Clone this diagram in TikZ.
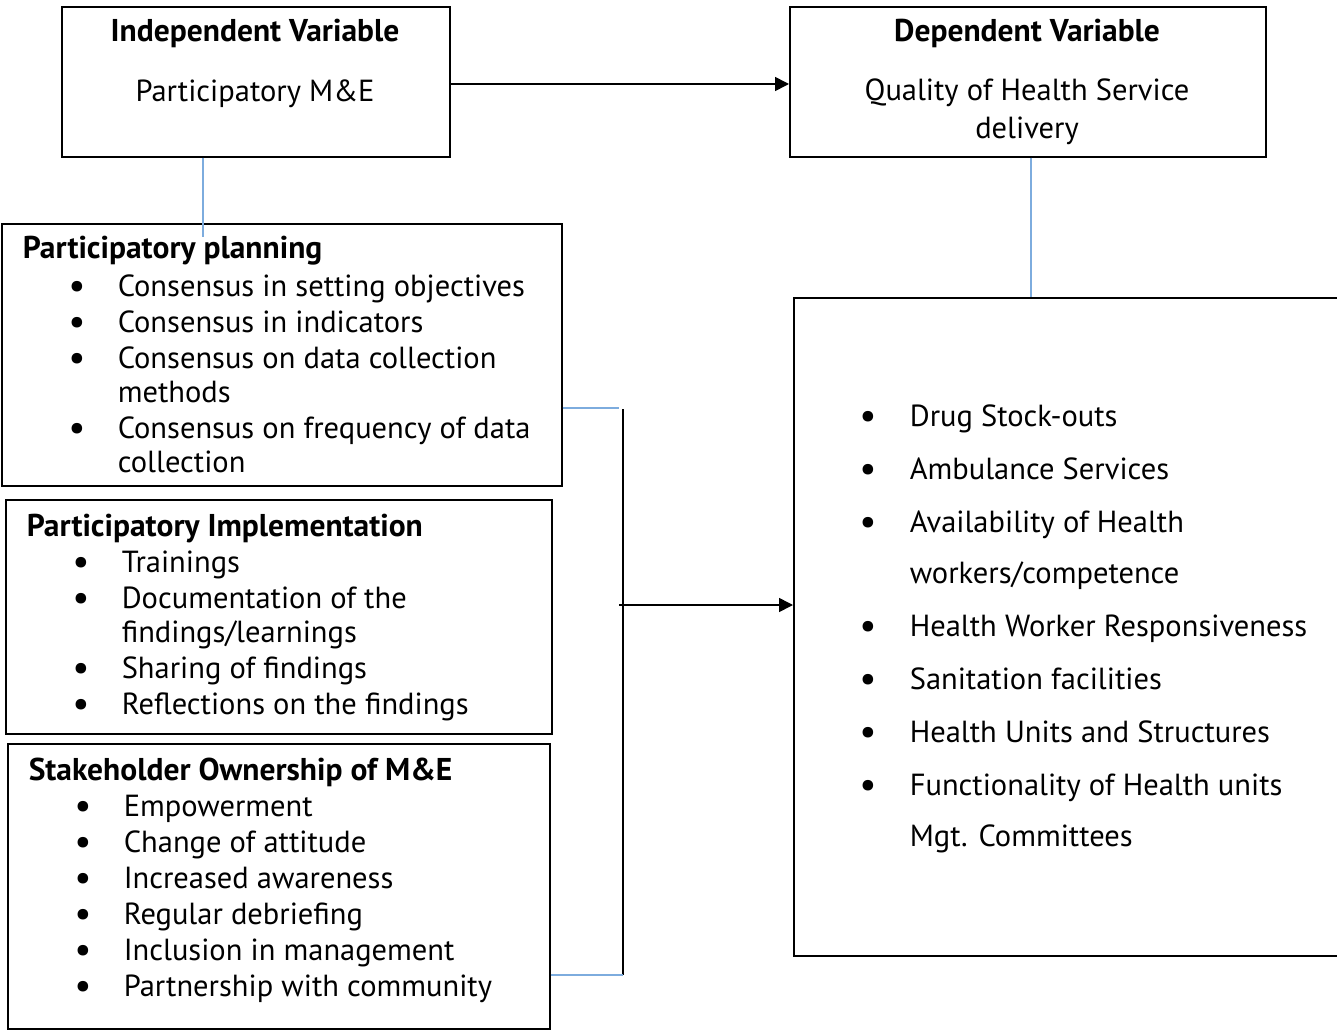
\documentclass[tikz,border=0pt]{standalone}
\usepackage{fontspec}
\setmainfont{PT Sans}
\usetikzlibrary{arrows.meta}
\definecolor{linkblue}{RGB}{125,172,222}
\begin{document}
\begin{tikzpicture}[x=1pt,y=-1pt,line width=1.6pt,
  box/.style={draw,inner sep=0pt,anchor=north west},
  txt/.style={font=\fontsize{30.5}{34}\selectfont,inner sep=0pt,anchor=base west},
  head/.style={txt,font=\fontsize{31.5}{34}\selectfont\bfseries},
  dot/.style={txt,anchor=base,font=\fontsize{38}{34}\selectfont},
  link/.style={draw=linkblue,line width=1.6pt},
  arr/.style={-{Triangle[length=14pt,width=14pt]}}]
\useasboundingbox (0,0) rectangle (1337,1030);
\node[box,minimum width=388,minimum height=150] (iv) at (61,6) {};
\node[box,minimum width=476,minimum height=150] (dv) at (789,6) {};
\node[box,minimum width=560,minimum height=262] (pp) at (1,223) {};
\node[box,minimum width=546,minimum height=234] (pi) at (5,499) {};
\node[box,minimum width=542,minimum height=285] (so) at (7,743) {};
\node[box,minimum width=544,minimum height=658] (qual) at (793,297) {};
\coordinate (ivdrop) at (203,237);
\coordinate (dvdrop) at (1031,297);
\coordinate (toparr) at (449,84);
\coordinate (pptap) at (619,408);
\coordinate (jtop) at (623,409);
\coordinate (jbot) at (623,975);
\coordinate (jmid) at (619,605);
\node[head,anchor=base] (ivhead) at (255,42) {Independent Variable};
\node[txt,anchor=base] (ivtext) at (255,102) {Participatory M\&E};
\node[head,anchor=base] (dvhead) at (1027,42) {Dependent Variable};
\node[txt,anchor=base] (dvtext) at (1027,101) {Quality of Health Service};
\node[txt,anchor=base] (dvtext2) at (1027,138) {delivery};
\node[head] (pphead) at (22,258) {Participatory planning};
\node[dot] (ppb1) at (77,298) {\textbullet};
\node[txt] (ppi1) at (117,296) {Consensus in setting objectives};
\node[dot] (ppb2) at (77,334) {\textbullet};
\node[txt] (ppi2) at (117,332) {Consensus in indicators};
\node[dot] (ppb3) at (77,370) {\textbullet};
\node[txt] (ppi3) at (117,368) {Consensus on data collection};
\node[txt] (ppi3b) at (117,402) {methods};
\node[dot] (ppb4) at (77,440) {\textbullet};
\node[txt] (ppi4) at (117,438) {Consensus on frequency of data};
\node[txt] (ppi4b) at (117,472) {collection};
\node[head] (pihead) at (26,536) {Participatory Implementation};
\node[dot] (pib1) at (81,574) {\textbullet};
\node[txt] (pii1) at (121,572) {Trainings};
\node[dot] (pib2) at (81,610) {\textbullet};
\node[txt] (pii2) at (121,608) {Documentation of the};
\node[txt] (pii2b) at (121,642) {findings/learnings};
\node[dot] (pib3) at (81,680) {\textbullet};
\node[txt] (pii3) at (121,678) {Sharing of findings};
\node[dot] (pib4) at (81,716) {\textbullet};
\node[txt] (pii4) at (121,714) {Reflections on the findings};
\node[head] (sohead) at (28,780) {Stakeholder Ownership of M\&E};
\node[dot] (sob1) at (83,818) {\textbullet};
\node[txt] (soi1) at (123,816) {Empowerment};
\node[dot] (sob2) at (83,854) {\textbullet};
\node[txt] (soi2) at (123,852) {Change of attitude};
\node[dot] (sob3) at (83,890) {\textbullet};
\node[txt] (soi3) at (123,888) {Increased awareness};
\node[dot] (sob4) at (83,926) {\textbullet};
\node[txt] (soi4) at (123,924) {Regular debriefing};
\node[dot] (sob5) at (83,962) {\textbullet};
\node[txt] (soi5) at (123,960) {Inclusion in management};
\node[dot] (sob6) at (83,998) {\textbullet};
\node[txt] (soi6) at (123,996) {Partnership with community};
\node[dot] (qb1) at (868,428) {\textbullet};
\node[txt] (qi1) at (909,426) {Drug Stock-outs};
\node[dot] (qb2) at (868,481) {\textbullet};
\node[txt] (qi2) at (909,479) {Ambulance Services};
\node[dot] (qb3) at (868,534) {\textbullet};
\node[txt] (qi3) at (909,532) {Availability of Health};
\node[txt] (qi3b) at (909,583) {workers/competence};
\node[dot] (qb4) at (868,638) {\textbullet};
\node[txt] (qi4) at (909,636) {Health Worker Responsiveness};
\node[dot] (qb5) at (868,691) {\textbullet};
\node[txt] (qi5) at (909,689) {Sanitation facilities};
\node[dot] (qb6) at (868,744) {\textbullet};
\node[txt] (qi6) at (909,742) {Health Units and Structures};
\node[dot] (qb7) at (868,797) {\textbullet};
\node[txt] (qi7) at (909,795) {Functionality of Health units};
\node[txt] (qi7b) at (909,846) {Mgt. Committees};
\draw[arr] (toparr) -- (toparr -| dv.west);
\draw[link] (ivdrop |- iv.south) -- (ivdrop);
\draw[link] (dvdrop |- dv.south) -- (dvdrop);
\draw[link] (pptap -| pp.east) -- (pptap);
\draw (jtop) -- (jbot);
\draw[link] (jbot -| so.east) -- (jbot);
\draw[arr] (jmid) -- (jmid -| qual.west);
\end{tikzpicture}
\end{document}
